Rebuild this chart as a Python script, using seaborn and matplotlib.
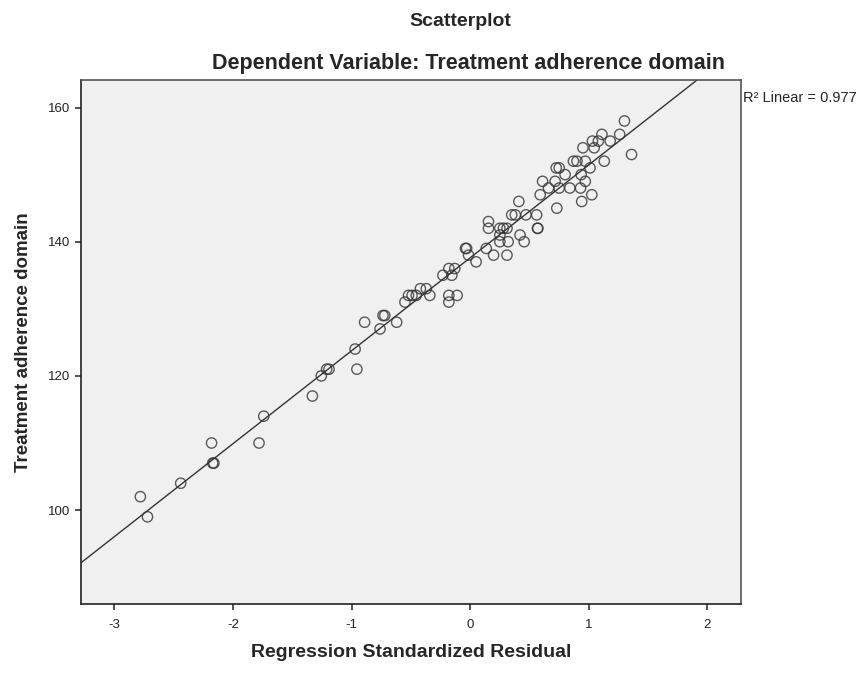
import numpy as np
import pandas as pd
import matplotlib
matplotlib.use('Agg')
import matplotlib.pyplot as plt
import seaborn as sns

# values
residual = [-2.78, -2.72, -2.44, -2.18, -2.17, -2.16, -1.78, -1.74, -1.33, -1.255,
            -1.21, -1.19, -0.955, -0.97, -0.76, -0.89, -0.735, -0.72, -0.62, -0.55,
            -0.52, -0.49, -0.455, -0.42, -0.37, -0.34, -0.18, -0.18, -0.11,
            -0.23, -0.18, -0.13, -0.155, -0.04, -0.03, -0.014, 0.05, 0.135, 0.197,
            0.31, 0.154, 0.154, 0.25, 0.28, 0.31, 0.25, 0.25, 0.32, 0.42, 0.455, 0.567,
            1.30, 1.36, 1.26, 1.11, 1.18, 1.08, 1.03, 1.045, 0.95, 1.13, 0.87, 0.90,
            0.97, 1.01, 0.935, 0.97, 0.93, 1.025, 0.94, 0.725, 0.75, 0.80, 0.716,
            0.61, 0.66, 0.75, 0.84, 0.59, 0.73, 0.41, 0.56, 0.35, 0.38, 0.47, 0.57]
adherence = [102, 99, 104, 110, 107, 107, 110, 114, 117, 120,
             121, 121, 121, 124, 127, 128, 129, 129, 128, 131,
             132, 132, 132, 133, 133, 132, 132, 131, 132,
             135, 136, 136, 135, 139, 139, 138, 137, 139, 138,
             138, 142, 143, 142, 142, 142, 141, 140, 140, 141, 140, 142,
             158, 153, 156, 156, 155, 155, 155, 154, 154, 152, 152, 152,
             152, 151, 150, 149, 148, 147, 146, 151, 151, 150, 149,
             149, 148, 148, 148, 147, 145, 146, 144, 144, 144, 144, 142]
x_ticks = [-3, -2, -1, 0, 1, 2]
y_ticks = [100, 120, 140, 160]
r2_text = 'R² Linear = 0.977'

df = pd.DataFrame({'resid': residual, 'adh': adherence})

sns.set_style('ticks')
plt.rcParams['font.family'] = ['Liberation Sans', 'DejaVu Sans']
plt.rcParams['axes.unicode_minus'] = False

fig = plt.figure(figsize=(8.63, 6.73), dpi=100)
ax = fig.add_axes([0.0939, 0.1025, 0.7644, 0.7786])
ax.set_facecolor('#f0f0f0')
ax.set_xlim(-3.28, 2.28)
ax.set_ylim(86, 164.1)

sns.regplot(data=df, x='resid', y='adh', ax=ax, ci=None, truncate=False,
            scatter_kws={'s': 55, 'facecolors': 'none', 'edgecolors': '#333333', 'linewidths': 1.0},
            line_kws={'color': '#333333', 'linewidth': 1.0})

ax.set_xlim(-3.28, 2.28)
ax.set_ylim(86, 164.1)
ax.set_xticks(x_ticks)
ax.set_yticks(y_ticks)
ax.tick_params(direction='out', length=4, width=1.2, color='#333333', labelsize=9.5, labelcolor='#222222')
ax.tick_params(axis='x', pad=7)
for sp in ax.spines.values():
    sp.set_visible(True)
    sp.set_color('#555555')
    sp.set_linewidth(1.2)
ax.spines['left'].set_color('#222222')
ax.spines['bottom'].set_color('#222222')

ax.set_xlabel('Regression Standardized Residual', fontsize=14, fontweight='bold', labelpad=9)
ax.set_ylabel('Treatment adherence domain', fontsize=13.5, fontweight='bold', labelpad=12)

fig.text(460 / 863, 1 - 22 / 673, 'Scatterplot', ha='center', va='center', fontsize=14, fontweight='bold')
fig.text(468 / 863, 1 - 64 / 673, 'Dependent Variable: Treatment adherence domain', ha='center', va='center',
         fontsize=15.5, fontweight='bold')
ax.text(1.003, 0.966, r2_text, transform=ax.transAxes, ha='left', va='center', fontsize=10.5)

fig.savefig('out.png', dpi=100)
